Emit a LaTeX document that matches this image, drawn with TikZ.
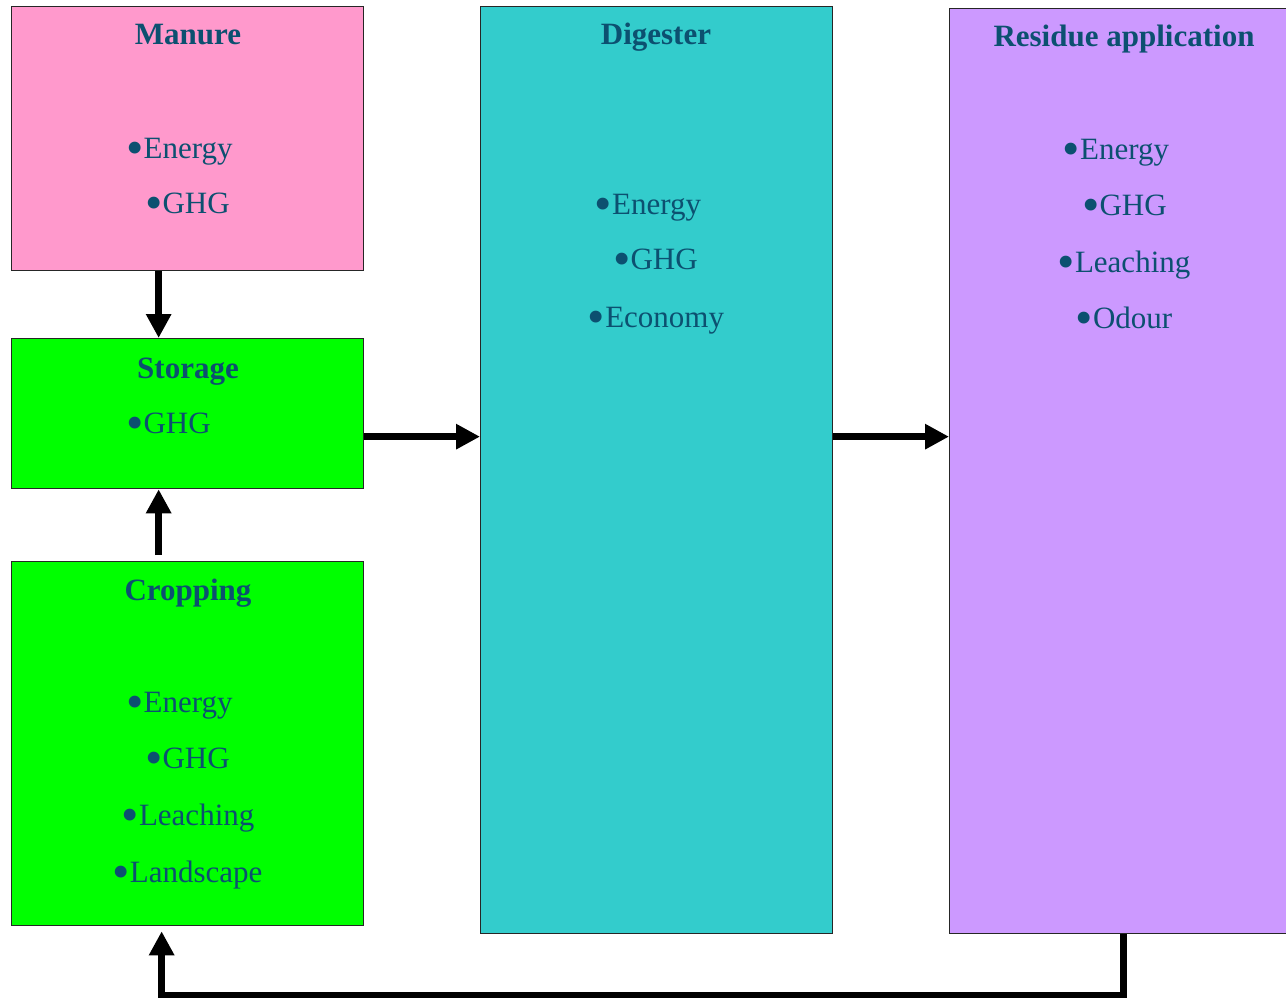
\documentclass[tikz,border=0pt]{standalone}
\usepackage{fontspec}
\usepackage{graphicx}
\setmainfont{Liberation Serif}
\usetikzlibrary{arrows.meta}
\definecolor{txtc}{RGB}{12,80,112}
\definecolor{pinkc}{HTML}{FF99CC}
\definecolor{greenc}{HTML}{00FF00}
\definecolor{tealc}{HTML}{33CCCC}
\definecolor{lavc}{HTML}{CC99FF}
\newcommand{\bigbul}{\raisebox{-0.21em}{\scalebox{1.6}{•}}}
\begin{document}
\begin{tikzpicture}[x=1pt,y=-1pt,
  box/.style={draw=black!85, line width=1.3pt, inner sep=0pt, anchor=north west},
  ttl/.style={anchor=base, inner sep=0pt, text=txtc, font=\fontsize{31}{31}\selectfont\bfseries},
  itm/.style={anchor=base, inner sep=0pt, text=txtc, font=\fontsize{31}{31}\selectfont},
  arr/.style={line width=7pt, line join=miter, -{Triangle[length=24pt,width=24pt]}}]
\useasboundingbox (0,0) rectangle (1286,998);
% boxes
\node[box, fill=pinkc, minimum width=352pt, minimum height=264pt] (manure) at (11,6) {};
\node[box, fill=greenc, minimum width=352pt, minimum height=150pt] (storage) at (11,338) {};
\node[box, fill=greenc, minimum width=352pt, minimum height=364pt] (crop) at (11,561) {};
\node[box, fill=tealc, minimum width=352pt, minimum height=927pt] (dig) at (480,6) {};
\node[box, fill=lavc, minimum width=348pt, minimum height=925pt] (res) at (949,8) {};
% texts
\node[ttl] (mt) at (188,45) {Manure};
\node[itm] (m1) at (179.5,158) {\bigbul Energy};
\node[itm] (m2) at (187.5,213) {\bigbul GHG};
\node[ttl] (st) at (188,378) {Storage};
\node[itm] (s1) at (168.5,433) {\bigbul GHG};
\node[ttl] (ct) at (188,600) {Cropping};
\node[itm] (c1) at (179.5,712) {\bigbul Energy};
\node[itm] (c2) at (187.5,768) {\bigbul GHG};
\node[itm] (c3) at (188,825) {\bigbul Leaching};
\node[itm] (c4) at (187.5,882) {\bigbul Landscape};
\node[ttl] (dt) at (656,45) {Digester};
\node[itm] (d1) at (648,214) {\bigbul Energy};
\node[itm] (d2) at (655.5,269) {\bigbul GHG};
\node[itm] (d3) at (656,327) {\bigbul Economy};
\node[ttl] (rt) at (1124,47) {Residue application};
\node[itm] (r1) at (1116,159) {\bigbul Energy};
\node[itm] (r2) at (1124.5,215) {\bigbul GHG};
\node[itm] (r3) at (1124,272) {\bigbul Leaching};
\node[itm] (r4) at (1124,328) {\bigbul Odour};
% connectors
\draw[arr] ([xshift=-29pt]manure.south) -- ([xshift=-29pt]storage.north);
\draw[arr] ([xshift=-29pt,yshift=6pt]crop.north) -- ([xshift=-29pt]storage.south);
\coordinate (sa) at ([yshift=-23pt]storage.east);
\draw[arr] (sa) -- (sa -| dig.west);
\draw[arr] (dig.east |- sa) -- (res.west |- sa);
\coordinate (cb) at ([xshift=-26pt,yshift=-5pt]crop.south);
\draw[arr] (res.south) -- ++(0,61) -| (cb);
\end{tikzpicture}
\end{document}
